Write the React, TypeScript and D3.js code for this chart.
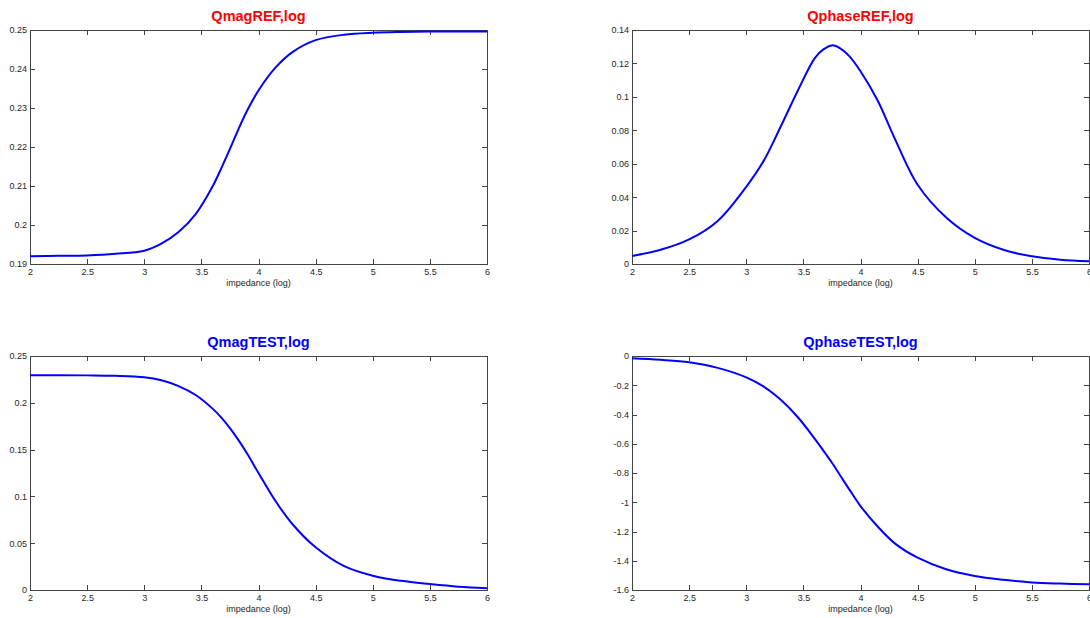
import React, { useRef, useEffect } from "react";
import * as d3 from "d3";

// impedance grid (log) shared by all four curves
const impedance = [
  2, 2.25, 2.5, 2.75, 3, 3.15, 3.3, 3.45, 3.6, 3.675, 3.75, 3.825, 3.9, 4,
  4.15, 4.3, 4.5, 4.75, 5, 5.25, 5.5, 5.75, 6,
];

const qmagREF = [
  0.192, 0.1921, 0.1922, 0.1926, 0.1934, 0.1952, 0.1982, 0.2028, 0.21,
  0.2146, 0.2195, 0.2246, 0.2293, 0.2345, 0.2404, 0.2444, 0.2474, 0.2488,
  0.2493, 0.2495, 0.2496, 0.2496, 0.2496,
];

const qphaseREF = [
  0.0048, 0.0085, 0.0147, 0.0258, 0.0462, 0.0614, 0.082, 0.1035, 0.1232,
  0.1284, 0.1308, 0.1289, 0.1245, 0.1153, 0.0978, 0.075, 0.0474, 0.0278,
  0.0156, 0.0085, 0.0046, 0.0026, 0.0016,
];

const qmagTEST = [
  0.2295, 0.2295, 0.2293, 0.2288, 0.2272, 0.224, 0.2178, 0.2083, 0.1935,
  0.1842, 0.1729, 0.1601, 0.1458, 0.125, 0.0948, 0.07, 0.0456, 0.0255, 0.0153,
  0.0098, 0.0064, 0.0036, 0.002,
];

const qphaseTEST = [
  -0.015, -0.026, -0.043, -0.081, -0.146, -0.208, -0.298, -0.417, -0.566,
  -0.647, -0.73, -0.82, -0.91, -1.026, -1.166, -1.281, -1.379, -1.458, -1.504,
  -1.53, -1.548, -1.556, -1.561,
];

const xTicks = [2, 2.5, 3, 3.5, 4, 4.5, 5, 5.5, 6];
const qmagREFTicks = [0.19, 0.2, 0.21, 0.22, 0.23, 0.24, 0.25];
const qphaseREFTicks = [0, 0.02, 0.04, 0.06, 0.08, 0.1, 0.12, 0.14];
const qmagTESTTicks = [0, 0.05, 0.1, 0.15, 0.2, 0.25];
const qphaseTESTTicks = [-1.6, -1.4, -1.2, -1, -0.8, -0.6, -0.4, -0.2, 0];

const FONT = '"Liberation Sans", Arial, Helvetica, sans-serif';
const AXIS_COLOR = "#444444";
const TEXT_COLOR = "#262626";

function Panel({ title, titleColor, values, yTicks, left, top, width, height }) {
  const gRef = useRef(null);

  useEffect(() => {
    const g = d3.select(gRef.current);
    g.selectAll("*").remove();

    const x = d3.scaleLinear().domain([2, 6]).range([0, width]);
    const y = d3
      .scaleLinear()
      .domain(d3.extent(yTicks))
      .range([height, 0]);
    const fmt = (d) => String(+d.toFixed(2));

    // box
    g.append("rect")
      .attr("x", 0)
      .attr("y", 0)
      .attr("width", width)
      .attr("height", height)
      .attr("fill", "#fff")
      .attr("stroke", AXIS_COLOR)
      .attr("shape-rendering", "crispEdges");

    const styleAxis = (sel) => {
      sel.select(".domain").remove();
      sel.selectAll("line").attr("stroke", AXIS_COLOR).attr("shape-rendering", "crispEdges");
      sel.selectAll("text")
        .attr("fill", TEXT_COLOR)
        .style("font-family", FONT)
        .style("font-size", "9px");
    };

    g.append("g")
      .attr("transform", `translate(0,${height})`)
      .call(d3.axisBottom(x).tickValues(xTicks).tickSizeInner(-5).tickSizeOuter(0).tickPadding(5).tickFormat(fmt))
      .call(styleAxis);

    g.append("g")
      .call(d3.axisTop(x).tickValues(xTicks).tickSizeInner(-5).tickSizeOuter(0).tickFormat(() => ""))
      .call(styleAxis);

    g.append("g")
      .call(d3.axisLeft(y).tickValues(yTicks).tickSizeInner(-5).tickSizeOuter(0).tickPadding(3).tickFormat(fmt))
      .call(styleAxis);

    g.append("g")
      .attr("transform", `translate(${width},0)`)
      .call(d3.axisRight(y).tickValues(yTicks).tickSizeInner(-5).tickSizeOuter(0).tickFormat(() => ""))
      .call(styleAxis);

    // curve
    const lineGen = d3
      .line()
      .x((d, i) => x(impedance[i]))
      .y((d) => y(d))
      .curve(d3.curveCatmullRom.alpha(0.5));

    g.append("path")
      .datum(values)
      .attr("d", lineGen)
      .attr("fill", "none")
      .attr("stroke", "#0000ff")
      .attr("stroke-width", 2)
      .attr("stroke-linejoin", "round");

    // title + x label
    g.append("text")
      .attr("x", width / 2)
      .attr("y", -9.5)
      .attr("text-anchor", "middle")
      .attr("fill", titleColor)
      .style("font-family", FONT)
      .style("font-size", "14.5px")
      .style("font-weight", "bold")
      .text(title);

    g.append("text")
      .attr("x", width / 2)
      .attr("y", height + 22)
      .attr("text-anchor", "middle")
      .attr("fill", TEXT_COLOR)
      .style("font-family", FONT)
      .style("font-size", "9px")
      .text("impedance (log)");
  }, [title, titleColor, values, yTicks, width, height]);

  return <g ref={gRef} transform={`translate(${left},${top})`} />;
}

export default function App() {
  const w = 457;
  const h = 234;
  return (
    <svg
      width={1090}
      height={618}
      style={{ position: "absolute", left: 0, top: 0, background: "#fff" }}
    >
      <Panel title="QmagREF,log" titleColor="#ff0000" values={qmagREF} yTicks={qmagREFTicks} left={30} top={30} width={w} height={h} />
      <Panel title="QphaseREF,log" titleColor="#ff0000" values={qphaseREF} yTicks={qphaseREFTicks} left={632} top={30} width={w} height={h} />
      <Panel title="QmagTEST,log" titleColor="#0000ff" values={qmagTEST} yTicks={qmagTESTTicks} left={30} top={356} width={w} height={h} />
      <Panel title="QphaseTEST,log" titleColor="#0000ff" values={qphaseTEST} yTicks={qphaseTESTTicks} left={632} top={356} width={w} height={h} />
    </svg>
  );
}
